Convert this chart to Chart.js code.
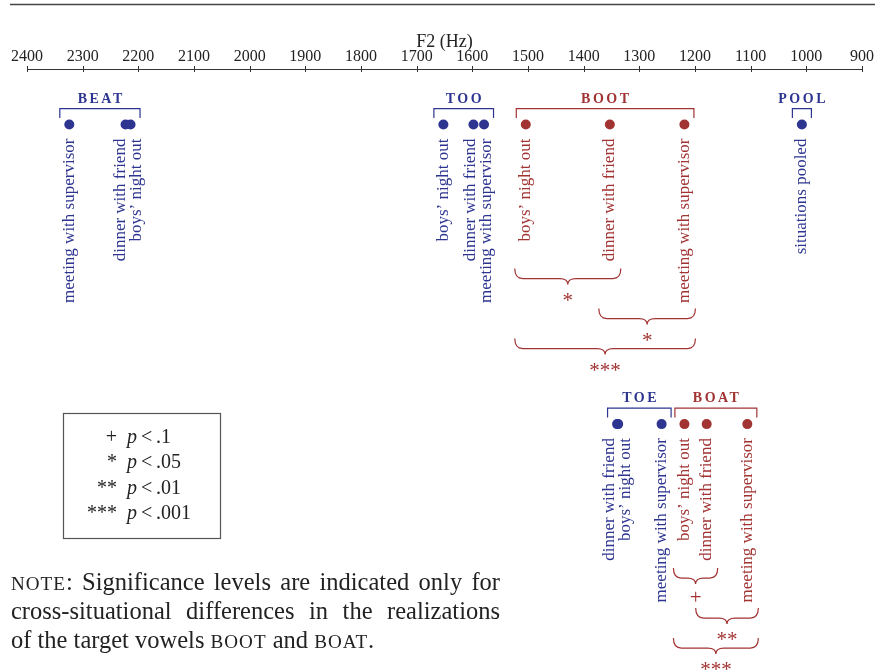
<!DOCTYPE html>
<html>
<head>
<meta charset="utf-8">
<script src="https://cdn.jsdelivr.net/npm/chart.js@4.4.1/dist/chart.umd.min.js"></script>
<style>
  html, body { margin: 0; padding: 0; background: #fff; }
  #wrap { width: 875px; height: 672px; }
</style>
</head>
<body>
<div id="wrap"><canvas id="myChart" width="875" height="672"></canvas></div>
<script>
// F2 means (Hz) per speech situation
var situations = ["boys\u2019 night out", "dinner with friend", "meeting with supervisor"];

var beatF2 = [2214, 2223, 2324];
var tooF2  = [1652, 1598, 1579];
var bootF2 = [1504, 1353, 1219];
var poolF2 = [1008];
var toeF2  = [1338, 1340, 1260];
var boatF2 = [1219, 1179, 1106];

var f2Ticks = [2400, 2300, 2200, 2100, 2000, 1900, 1800, 1700, 1600, 1500, 1400, 1300, 1200, 1100, 1000, 900];

// significance of pairwise differences: [situation a, situation b, mark]
var bootSig = [[0, 1, "*"], [1, 2, "*"], [0, 2, "***"]];
var boatSig = [[0, 1, "+"], [1, 2, "**"], [0, 2, "***"]];

var sigMarks  = ["+", "*", "**", "***"];
var sigLevels = [".1", ".05", ".01", ".001"];

var BLUE = "#2d3590";
var RED  = "#a23333";
var SERIF = '"Liberation Serif", "DejaVu Serif", serif';

var vowels = [
    { name: "BEAT", f2: beatF2, labels: situations, row: 1, color: BLUE },
    { name: "TOO",  f2: tooF2,  labels: situations, row: 1, color: BLUE },
    { name: "BOOT", f2: bootF2, labels: situations, row: 1, color: RED, sig: bootSig },
    { name: "POOL", f2: poolF2, labels: ["situations pooled"], row: 1, color: BLUE },
    { name: "TOE",  f2: toeF2,  labels: situations, row: 2, color: BLUE },
    { name: "BOAT", f2: boatF2, labels: situations, row: 2, color: RED, sig: boatSig }
];

// curly brace opening downwards
function brace(ctx, x1, x2, y) {
    var xm = (x1 + x2) / 2, h = 10, r = 8;
    ctx.beginPath();
    ctx.moveTo(x1, y);
    ctx.quadraticCurveTo(x1, y + h, x1 + r, y + h);
    ctx.lineTo(xm - r, y + h);
    ctx.quadraticCurveTo(xm, y + h, xm, y + h + 6);
    ctx.quadraticCurveTo(xm, y + h, xm + r, y + h);
    ctx.lineTo(x2 - r, y + h);
    ctx.quadraticCurveTo(x2, y + h, x2, y);
    ctx.stroke();
}

// one line of text, {...} is set in small caps
function drawRich(ctx, line, x, y, width, size) {
    var words = line.split(" ").map(function (w) {
        return w.split(/(\{[^}]*\})/).filter(Boolean).map(function (s) {
            var sc = s.charAt(0) === "{";
            return { t: sc ? s.slice(1, -1).toUpperCase() : s, sc: sc };
        });
    });
    function setFont(sc) {
        ctx.font = (sc ? size * 0.78 : size) + "px " + SERIF;
        ctx.letterSpacing = sc ? "1px" : "0px";
    }
    var widths = words.map(function (p) {
        return p.reduce(function (s, seg) { setFont(seg.sc); return s + ctx.measureText(seg.t).width; }, 0);
    });
    var total = widths.reduce(function (a, b) { return a + b; }, 0);
    setFont(false);
    var gap = width ? (width - total) / (words.length - 1) : ctx.measureText(" ").width;
    var cx = x;
    words.forEach(function (p) {
        p.forEach(function (seg) {
            setFont(seg.sc);
            ctx.fillText(seg.t, cx, y);
            cx += ctx.measureText(seg.t).width;
        });
        cx += gap;
    });
}

var figurePlugin = {
    id: "figure",
    afterDraw: function (chart) {
        var ctx = chart.ctx, xs = chart.scales.x, ys = chart.scales.y, area = chart.chartArea;
        ctx.save();

        // rule above the figure
        ctx.strokeStyle = "#444";
        ctx.lineWidth = 1.4;
        ctx.beginPath(); ctx.moveTo(10, 4.5); ctx.lineTo(875, 4.5); ctx.stroke();

        // tick marks crossing the axis line
        ctx.strokeStyle = "#333";
        ctx.lineWidth = 1;
        xs.ticks.forEach(function (t) {
            var px = Math.round(xs.getPixelForValue(t.value)) + 0.5;
            ctx.beginPath(); ctx.moveTo(px, area.top - 3); ctx.lineTo(px, area.top + 3); ctx.stroke();
        });

        // brackets with vowel names
        vowels.forEach(function (v) {
            var px = v.f2.map(function (f) { return xs.getPixelForValue(f); });
            var lo = Math.min.apply(null, px) - 9.5, hi = Math.max.apply(null, px) + 9.5;
            var y0 = ys.getPixelForValue(v.row);
            ctx.strokeStyle = v.color;
            ctx.lineWidth = 1.2;
            ctx.beginPath();
            ctx.moveTo(lo, y0 - 6.5); ctx.lineTo(lo, y0 - 16); ctx.lineTo(hi, y0 - 16); ctx.lineTo(hi, y0 - 6.5);
            ctx.stroke();
            ctx.fillStyle = v.color;
            ctx.font = "bold 14px " + SERIF;
            ctx.letterSpacing = "2.5px";
            ctx.textAlign = "center";
            ctx.textBaseline = "alphabetic";
            ctx.fillText(v.name, (lo + hi) / 2 + 1.25, y0 - 22);
        });
        ctx.letterSpacing = "0px";

        // vertical situation labels, spread apart where dots overlap
        [1, 2].forEach(function (row) {
            var items = [];
            vowels.forEach(function (v) {
                if (v.row !== row) return;
                v.f2.forEach(function (f, i) {
                    items.push({ x: xs.getPixelForValue(f), text: v.labels[i], color: v.color });
                });
            });
            items.sort(function (a, b) { return a.x - b.x; });
            var clusters = [];
            items.forEach(function (it) {
                var c = clusters[clusters.length - 1];
                if (c && it.x - c[c.length - 1].x < 15) c.push(it); else clusters.push([it]);
            });
            clusters.forEach(function (c) {
                var m = c.reduce(function (s, it) { return s + it.x; }, 0) / c.length;
                c.forEach(function (it, i) { it.lx = m + (i - (c.length - 1) / 2) * 16; });
            });
            var y0 = ys.getPixelForValue(row);
            ctx.font = "17px " + SERIF;
            items.forEach(function (it) {
                ctx.save();
                ctx.translate(it.lx, y0 + 14);
                ctx.rotate(-Math.PI / 2);
                ctx.fillStyle = it.color;
                ctx.textAlign = "right";
                ctx.textBaseline = "middle";
                ctx.fillText(it.text, 0, 0);
                ctx.restore();
            });
        });

        // braces with significance marks
        var levels = [144, 184, 214];
        vowels.forEach(function (v) {
            if (!v.sig) return;
            var y0 = ys.getPixelForValue(v.row);
            v.sig.forEach(function (s, k) {
                var a = xs.getPixelForValue(v.f2[s[0]]), b = xs.getPixelForValue(v.f2[s[1]]);
                var x1 = Math.min(a, b) - 11, x2 = Math.max(a, b) + 11;
                var top = y0 + levels[k];
                ctx.strokeStyle = v.color;
                ctx.lineWidth = 1.2;
                brace(ctx, x1, x2, top);
                ctx.fillStyle = v.color;
                ctx.font = "21px " + SERIF;
                ctx.textAlign = "center";
                ctx.textBaseline = "alphabetic";
                var m = ctx.measureText(s[2]);
                ctx.fillText(s[2], (x1 + x2) / 2, top + 28 + (m.actualBoundingBoxAscent - m.actualBoundingBoxDescent) / 2);
            });
        });

        // key to significance marks
        ctx.strokeStyle = "#555";
        ctx.lineWidth = 1.2;
        ctx.strokeRect(63.5, 413.5, 157, 125);
        ctx.fillStyle = "#222";
        sigMarks.forEach(function (mk, i) {
            var y = 443 + i * 25.3;
            ctx.font = "20px " + SERIF;
            ctx.textAlign = "right";
            ctx.fillText(mk, 117, y);
            ctx.textAlign = "left";
            ctx.font = "italic 20px " + SERIF;
            ctx.fillText("p", 127, y);
            ctx.font = "20px " + SERIF;
            ctx.fillText("<", 141, y);
            ctx.fillText(sigLevels[i], 156, y);
        });

        // note
        ctx.fillStyle = "#222";
        ctx.textAlign = "left";
        drawRich(ctx, "{note}: Significance levels are indicated only for", 11, 590, 489, 24.5);
        drawRich(ctx, "cross-situational differences in the realizations", 11, 619, 489, 24.5);
        drawRich(ctx, "of the target vowels {boot} and {boat}.", 11, 648, 0, 24.5);

        ctx.restore();
    }
};

var chart = new Chart(document.getElementById("myChart").getContext("2d"), {
    type: "scatter",
    data: {
        datasets: vowels.map(function (v) {
            return {
                label: v.name,
                data: v.f2.map(function (f) { return { x: f, y: v.row }; }),
                backgroundColor: v.color,
                borderColor: v.color,
                pointRadius: 5,
                pointHoverRadius: 5,
                pointBorderWidth: 0
            };
        })
    },
    options: {
        responsive: false,
        animation: false,
        devicePixelRatio: 1,
        layout: { padding: { left: 27, right: 13, top: 0, bottom: 0 } },
        plugins: { legend: { display: false }, tooltip: { enabled: false } },
        scales: {
            x: {
                type: "linear",
                position: "top",
                reverse: true,
                min: 900,
                max: 2400,
                afterBuildTicks: function (scale) {
                    scale.ticks = f2Ticks.map(function (v) { return { value: v }; });
                },
                afterFit: function (scale) {
                    scale.height = 69;
                    scale.paddingLeft = 0;
                    scale.paddingRight = 0;
                },
                grid: { display: false, drawTicks: false },
                border: { display: true, color: "#333", width: 1 },
                ticks: {
                    color: "#222",
                    font: { family: SERIF, size: 16 },
                    padding: 3,
                    maxRotation: 0,
                    autoSkip: false,
                    callback: function (v) { return String(v); }
                },
                title: {
                    display: true,
                    text: "F2 (Hz)",
                    color: "#222",
                    font: { family: SERIF, size: 18 },
                    padding: { top: 31, bottom: 0 }
                }
            },
            y: {
                type: "linear",
                display: false,
                reverse: true,
                min: 0.8144,
                max: 2.811
            }
        }
    },
    plugins: [figurePlugin]
});
</script>
</body>
</html>
